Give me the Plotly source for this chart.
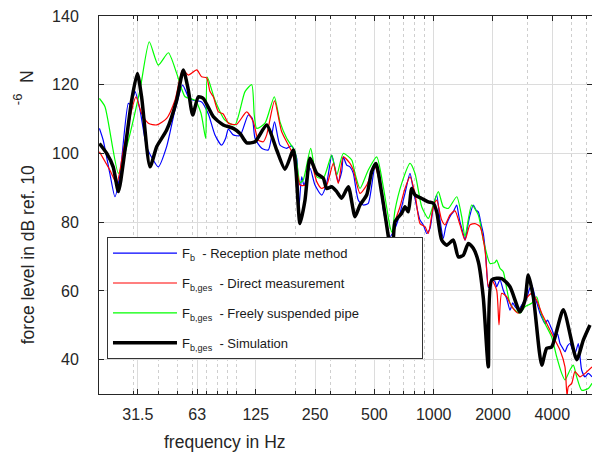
import plotly.graph_objects as go

# ---------------- data ----------------
f_blue = [20.1, 21.0, 22.7, 24.1, 25.6, 28.2, 29.0, 30.5, 32.3, 34.9, 37.7, 40.0, 44.1, 48.6, 53.2, 56.8,
          60.2, 66.4, 71.8, 77.6, 83.9, 87.9, 90.7, 96.1, 104, 114.5, 120, 123.9, 134, 144.7, 155.6, 165.9,
          179.4, 190.2, 201.7, 207, 213.8, 219.6, 235.6, 249.7, 270, 286.4, 303.6, 315.5, 328, 341.3, 347.7,
          361.8, 376, 390.8, 414.4, 439.3, 465.7, 503.6, 523.4, 555, 600, 636.3, 674.6, 715.2, 758.2, 788.2,
          820, 852.2, 885.8, 921.8, 958, 995.6, 1036, 1077, 1119, 1150, 1186, 1220, 1258, 1309, 1335, 1360,
          1400, 1442, 1485, 1529, 1589, 1640, 1685, 1740, 1786, 1840, 1894, 1971, 2048, 2088, 2170, 2256,
          2348, 2440, 2520, 2588, 2689, 2798, 2880, 2966, 3060, 3145, 3267, 3360, 3466, 3560, 3674, 3780,
          3894, 4000, 4128, 4250, 4377, 4500, 4640, 4780, 4920, 5060, 5216, 5422, 5540, 5642, 5864, 6092, 6363]
db_blue = [107.3, 103.9, 94.2, 87.4, 94.2, 114.6, 114.1, 118.0, 112.6, 102.0, 98.1, 96.1, 102.0, 112.6, 119.9, 116.5,
           115.5, 115.0, 111.5, 105.4, 102.4, 104.4, 107.1, 105.4, 105.2, 111.2, 110.2, 104.4, 101.5, 101.0, 109.2, 102.4,
           101.5, 102.2, 98.6, 84.5, 93.2, 90.8, 95.7, 90.8, 87.9, 91.3, 99.5, 95.7, 91.8, 94.7, 99.0,
           96.6, 96.1, 94.2, 86.4, 85.0, 85.5, 96.1, 94.7, 83.5, 75.8, 78.2, 82.6, 88.4, 94.2, 89.4,
           84.5, 80.6, 79.2, 76.7, 78.2, 84.5, 87.9, 80.6, 75.3, 78.5, 80.6, 82.0, 83.0, 85.0, 82.5, 80.1,
           77.5, 74.8, 78.5, 82.1, 85.0, 83.5, 83.0, 79.5, 76.7, 70.0, 61.0, 63.2, 62.7, 61.2, 63.2, 60.2,
           57.8, 54.4, 56.5, 55.4, 54.4, 55.9, 57.0, 57.8, 60.5, 61.7, 58.3, 56.0, 53.5, 52.0, 50.5, 51.5,
           50.1, 48.5, 46.6, 47.5, 44.7, 43.5, 42.3, 44.0, 44.7, 43.0, 41.8, 44.7, 40.5, 36.9, 35.0, 36.0, 35.0]

f_red = [20.1, 22.7, 24.6, 26.6, 29.3, 30.8, 32.9, 35.6, 39.3, 44.1, 48.6, 53.2, 56.8, 62.7, 66.4, 70.4,
         73.2, 76.1, 80.7, 85.5, 90.7, 100, 112.4, 121.4, 128.7, 136.5, 142, 155.6, 169.2, 190.2, 201.7, 209.6,
         222.2, 237.5, 254.8, 270, 286.4, 309.3, 328, 347.7, 376, 390.8, 422.6, 457, 503.6, 544.6, 588.4,
         612, 636.3, 674.6, 715.2, 758.2, 803.8, 852.2, 903.6, 939.2, 995.6, 1036, 1098, 1141, 1210, 1283,
         1360, 1442, 1529, 1621, 1718, 1822, 1894, 1932, 1971, 2088, 2146, 2214, 2348, 2490, 2689, 2907,
         3145, 3334, 3535, 3818, 4128, 4377, 4640, 4750, 4824, 5020, 5216, 5530, 5864, 6363]
db_red = [100.5, 95.2, 91.3, 101.0, 112.6, 116.5, 111.7, 108.8, 108.3, 110.2, 115.5, 124.3, 122.8, 124.3, 122.3, 122.0,
          118.0, 116.5, 112.1, 111.5, 108.8, 108.5, 112.1, 109.2, 103.9, 103.4, 105.4, 115.3, 106.3, 100.5, 95.2, 90.8,
          90.8, 98.1, 91.8, 89.8, 90.8, 97.1, 91.3, 99.0, 97.1, 95.2, 88.4, 90.8, 96.1, 88.4, 76.7,
          72.0, 80.1, 84.5, 89.8, 93.2, 88.4, 79.6, 78.7, 76.7, 84.5, 86.4, 80.6, 79.2, 82.1, 83.3,
          79.2, 74.8, 79.2, 79.6, 78.7, 71.9, 61.2, 62.5, 63.2, 60.2, 50.1, 59.3, 58.3, 55.4, 53.5, 57.3,
          59.3, 57.3, 53.5, 49.6, 45.7, 42.8, 37.9, 29.5, 32.1, 33.1, 36.5, 35.0, 36.0, 37.9]

f_green = [20.1, 21.45, 25.1, 27.65, 32.3, 36.0, 40.0, 45.0, 49.6, 54.7, 61.4, 65.9, 69.6, 70.9, 77.6, 87.2,
           98, 110.2, 119.2, 122.8, 126.3, 139.2, 155.2, 165.9, 179.4, 197.7, 209.6, 217.8, 237.5, 254.8, 275.2,
           303.6, 321.9, 347.7, 383.6, 398.7, 422.6, 465.7, 513.7, 555, 600, 615, 636.3, 688.2, 758.2, 803.8,
           869.4, 939.2, 995.6, 1056, 1119, 1186, 1309, 1388, 1442, 1559, 1685, 1786, 1822, 1932, 2048, 2088,
           2170, 2256, 2348, 2440, 2588, 2742, 2907, 3145, 3334, 3466, 3674, 3972, 4213, 4466, 4640, 4920,
           5114, 5322, 5642, 6092, 6363]
db_green = [116.0, 113.6, 94.2, 102.0, 118.5, 132.5, 125.7, 129.3, 123.3, 116.5, 115.5, 111.7, 104.4, 122.2, 115.5, 109.7,
            108.3, 118.0, 120.0, 111.2, 107.3, 108.8, 116.5, 109.2, 104.4, 100.5, 91.5, 92.3, 101.5, 93.2, 92.8,
            99.5, 93.7, 100.0, 98.1, 94.2, 89.8, 95.2, 99.0, 90.3, 78.7, 77.0, 83.5, 91.3, 97.1, 94.2,
            84.5, 81.1, 85.0, 88.9, 84.5, 84.0, 87.4, 81.6, 75.8, 85.0, 82.1, 74.8, 72.8, 68.0, 68.3, 69.0,
            66.6, 65.6, 60.7, 56.4, 54.4, 53.5, 55.4, 56.4, 58.3, 54.4, 50.5, 46.6, 40.8, 36.0, 34.1, 37.0,
            38.4, 35.0, 31.1, 31.6, 33.1]

f_black = [20.1, 21.9, 23.6, 25.1, 27.1, 29.3, 31.3, 32.9, 36.3, 39.3, 44.1, 49.6, 53.6, 56.8, 59.8, 63.9,
           67.7, 76.1, 85.5, 96.1, 104, 112.4, 123.9, 142, 159.6, 175.9, 193.8, 200, 209.6, 222.2, 235.6,
           254.8, 275.2, 286.4, 303.6, 321.9, 341.3, 368.6, 398.7, 422.6, 457, 484.6, 509.5, 544.6, 588.4,
           615, 636.3, 688.2, 715.2, 743.2, 773.4, 803.8, 869.4, 939.2, 995.6, 1036, 1098, 1165, 1258, 1334,
           1414, 1499, 1589, 1685, 1786, 1894, 1971, 2214, 2440, 2742, 2907, 3022, 3204, 3535, 3747, 3972,
           4550, 5322, 5749, 6214]
db_black = [102.9, 100.0, 96.1, 88.9, 101.0, 115.5, 123.3, 116.5, 96.1, 102.0, 106.8, 115.5, 124.3, 118.5, 111.2, 116.5,
            116.0, 110.7, 108.3, 107.3, 105.8, 103.1, 103.4, 108.3, 101.0, 95.4, 101.0, 95.0, 79.6, 86.4, 98.6,
            94.2, 92.8, 89.8, 90.3, 88.9, 87.0, 90.3, 81.6, 85.0, 87.9, 94.7, 97.1, 88.4, 75.8,
            68.0, 80.1, 82.6, 84.5, 83.0, 89.8, 87.9, 86.9, 85.9, 85.5, 83.0, 74.8, 73.3, 74.8, 69.9,
            70.4, 73.8, 72.4, 68.5, 58.0, 37.9, 63.2, 63.6, 61.2, 53.9, 57.3, 64.6, 58.3, 38.4, 43.3, 43.7,
            54.5, 40.0, 45.7, 50.1]

x_tickvals = [31.5, 63, 125, 250, 500, 1000, 2000, 4000]
x_ticktext = ["31.5", "63", "125", "250", "500", "1000", "2000", "4000"]
x_minor = [30, 40, 50, 60, 70, 80, 90, 100, 200, 300, 400, 600, 700, 800, 900, 3000, 5000, 6000]
y_tickvals = [40, 60, 80, 100, 120, 140]

names = ["F<sub>b</sub>  - Reception plate method",
         "F<sub>b,ges</sub>  - Direct measurement",
         "F<sub>b,ges</sub>  - Freely suspended pipe" + "\u00a0" * 16,
         "F<sub>b,ges</sub>  - Simulation"]

# ---------------- figure ----------------
fig = go.Figure()
series = [
    (f_blue, db_blue, "#0000ff", 1.2, names[0], 1),
    (f_green, db_green, "#00ff00", 1.2, names[2], 3),
    (f_red, db_red, "#ff0000", 1.2, names[1], 2),
    (f_black, db_black, "#000000", 3.5, names[3], 4),
]
for fx, fy, col, w, nm, rank in series:
    fig.add_trace(go.Scatter(
        x=fx, y=fy, mode="lines", name=nm, legendrank=rank, legendgroup=str(rank),
        line=dict(color=col, width=w, shape="spline", smoothing=0.6),
    ))

axcol = "#262626"
fig.update_layout(
    width=592, height=457,
    margin=dict(l=99, r=0, t=16, b=63, autoexpand=False),
    paper_bgcolor="white", plot_bgcolor="white",
    font=dict(family="Liberation Sans, Arial, sans-serif", color=axcol),
    showlegend=True,
    legend=dict(
        x=0.0162, y=0.415, xanchor="left", yanchor="top",
        bgcolor="white", bordercolor="#333333", borderwidth=1,
        font=dict(size=13, color="#1a1a1a"),
        itemwidth=64, tracegroupgap=10, itemclick=False,
    ),
    xaxis=dict(
        type="log", range=[1.30103, 3.8037], automargin=False,
        tickmode="array", tickvals=x_tickvals, ticktext=x_ticktext,
        tickfont=dict(size=16, color=axcol), ticks="inside", ticklen=5, tickcolor=axcol,
        showline=True, linecolor=axcol, linewidth=1, mirror="ticks",
        showgrid=True, gridcolor="#dcdcdc", gridwidth=1,
        zeroline=False, ticklabelstandoff=6,
        minor=dict(tickvals=x_minor, showgrid=True, gridcolor="#cfcfcf", griddash="dot",
                   gridwidth=1, ticks="inside", ticklen=3, tickcolor=axcol),
    ),
    yaxis=dict(
        range=[30, 140], tickmode="array", tickvals=y_tickvals, automargin=False,
        tickfont=dict(size=16, color=axcol), ticks="inside", ticklen=5, tickcolor=axcol,
        showline=True, linecolor=axcol, linewidth=1, mirror="ticks",
        showgrid=True, gridcolor="#dcdcdc", gridwidth=1,
        zeroline=False, ticklabelstandoff=16,
    ),
)

fig.add_annotation(text="frequency in Hz", xref="paper", yref="paper", x=0.2556, y=-0.128,
                   xanchor="center", yanchor="middle", showarrow=False,
                   font=dict(size=17.5, color=axcol))
fig.add_annotation(text="force level in dB ref. 10", xref="paper", yref="paper", x=-0.144, y=0.367,
                   xanchor="center", yanchor="middle", textangle=-90, showarrow=False,
                   font=dict(size=17.5, color=axcol))
fig.add_annotation(text="-6", xref="paper", yref="paper", x=-0.1663, y=0.780,
                   xanchor="center", yanchor="middle", textangle=-90, showarrow=False,
                   font=dict(size=13, color=axcol))
fig.add_annotation(text="N", xref="paper", yref="paper", x=-0.146, y=0.8385,
                   xanchor="center", yanchor="middle", textangle=-90, showarrow=False,
                   font=dict(size=17.5, color=axcol))

fig.write_html("out.html", config={"displayModeBar": False},
               post_script="document.body.style.margin='0';document.body.style.overflow='hidden';")
